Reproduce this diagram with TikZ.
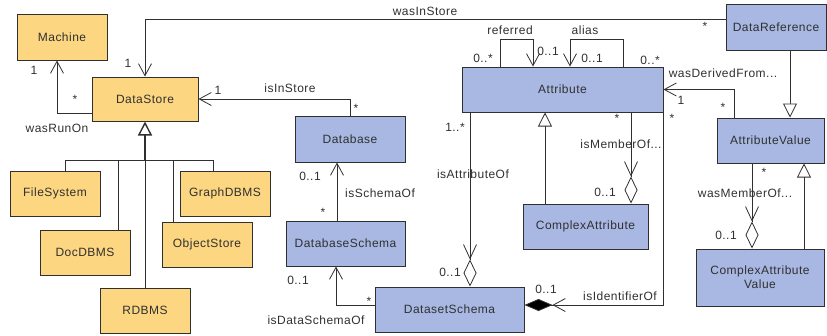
\documentclass[tikz,border=0pt]{standalone}
\usepackage{fontspec}
\setmainfont[LetterSpace=4]{Liberation Sans}
\usetikzlibrary{arrows.meta}
\definecolor{orng}{HTML}{FDD681}
\definecolor{bluf}{HTML}{A8B8E3}
\definecolor{ln}{HTML}{303030}
\begin{document}
\begin{tikzpicture}[x=1pt,y=-1pt,
  every node/.style={font=\fontsize{12}{14}\selectfont, text=ln},
  cls/.style={draw=ln, line width=1pt, inner sep=0pt, align=center},
  obox/.style={cls, fill=orng},
  bbox/.style={cls, fill=bluf},
  lbl/.style={inner sep=0pt},
  assoc/.style={draw=ln, line width=0.8pt, -{Straight Barb[length=12pt,width=13pt]}},
  gen/.style={draw=ln, line width=0.8pt, -{Triangle[open,length=14pt,width=14pt,fill=white]}},
  aggr/.style={draw=ln, line width=0.8pt, -{Straight Barb[length=14pt,width=13pt] Diamond[open,length=27pt,width=13pt,fill=white]}},
  comp/.style={draw=ln, line width=0.8pt, -{Straight Barb[length=12pt,width=13pt] Diamond[length=28pt,width=12pt,fill=black]}},
  plain/.style={draw=ln, line width=0.8pt},
]
\useasboundingbox (0,0) rectangle (827,335);
% boxes
\node[obox, minimum width=90, minimum height=46] (Machine) at (62,37) {Machine};
\node[obox, minimum width=106, minimum height=44] (DataStore) at (145,99) {DataStore};
\node[bbox, minimum width=110, minimum height=46] (Database) at (350,139) {Database};
\node[obox, minimum width=90, minimum height=45] (FileSystem) at (55,193.5) {FileSystem};
\node[obox, minimum width=90, minimum height=45] (GraphDBMS) at (225,193.5) {GraphDBMS};
\node[obox, minimum width=90, minimum height=45] (DocDBMS) at (85,252.5) {DocDBMS};
\node[obox, minimum width=90, minimum height=45] (ObjectStore) at (207,244.5) {ObjectStore};
\node[obox, minimum width=90, minimum height=45] (RDBMS) at (145,310.5) {RDBMS};
\node[bbox, minimum width=119, minimum height=45] (DatabaseSchema) at (345.5,243.5) {DatabaseSchema};
\node[bbox, minimum width=149, minimum height=45] (DatasetSchema) at (449.5,309.5) {DatasetSchema};
\node[bbox, minimum width=201, minimum height=45] (Attribute) at (562.5,89.5) {Attribute};
\node[bbox, minimum width=100, minimum height=46] (DataReference) at (776,27) {DataReference};
\node[bbox, minimum width=107, minimum height=45] (AttributeValue) at (770.5,140.5) {AttributeValue};
\node[bbox, minimum width=125, minimum height=45] (ComplexAttribute) at (585.5,226.5) {ComplexAttribute};
\node[bbox, minimum width=128, minimum height=57] (ComplexAttributeValue) at (760,277.5) {ComplexAttribute\\Value};
% generalization tree of DataStore
\coordinate (gbar) at (145,160);
\draw[gen, line width=1.4pt] (gbar) -- (DataStore.south);
\draw[plain] ([xshift=10pt]FileSystem.north) |- (gbar);
\draw[plain] ([xshift=33pt]DocDBMS.north) |- (gbar);
\draw[plain] (RDBMS.north) -- (gbar);
\draw[plain] ([xshift=-34pt]ObjectStore.north) |- (gbar);
\draw[plain] ([xshift=-12pt]GraphDBMS.north) |- (gbar);
% associations
\draw[assoc] ([yshift=8pt]DataReference.west) -| (DataStore.north);
\draw[assoc] ([yshift=-14pt]DataStore.west) -| ([xshift=-5pt]Machine.south);
\draw[assoc] (Database.north) |- (DataStore.east);
\draw[assoc] ([xshift=-8.5pt]DatabaseSchema.north) -- ([xshift=-8.5pt]DatabaseSchema.north |- Database.south);
\draw[assoc] ([yshift=4.5pt]DatasetSchema.west) -| ([xshift=-9.5pt]DatabaseSchema.south);
\draw[aggr] ([xshift=-92.5pt]Attribute.south) -- ([xshift=-92.5pt]Attribute.south |- DatasetSchema.north);
\draw[aggr] ([xshift=68.5pt]Attribute.south) -- ([xshift=68.5pt]Attribute.south |- ComplexAttribute.north);
\draw[gen] ([xshift=-40.5pt]ComplexAttribute.north) -- ([xshift=-40.5pt]ComplexAttribute.north |- Attribute.south);
\draw[comp] (Attribute.south east) |- ([yshift=4.5pt]DatasetSchema.east);
\draw[assoc] ([xshift=-62.5pt]Attribute.north) -- ++(0,-27) -| ([xshift=-29.5pt]Attribute.north);
\draw[assoc] ([xshift=60.5pt]Attribute.north) -- ++(0,-27) -| ([xshift=7.5pt]Attribute.north);
\draw[assoc] ([xshift=-36.5pt]AttributeValue.north) |- (Attribute.east);
\draw[gen] ([xshift=14pt]DataReference.south) -- ([xshift=14pt]DataReference.south |- AttributeValue.north);
\draw[gen] ([xshift=44pt]ComplexAttributeValue.north) -- ([xshift=44pt]ComplexAttributeValue.north |- AttributeValue.south);
\draw[aggr] ([xshift=-18.5pt]AttributeValue.south) -- ([xshift=-18.5pt]AttributeValue.south |- ComplexAttributeValue.north);
% labels
\node[lbl] (l1) at (425,11) {wasInStore};
\node[lbl] (l2) at (705,26) {*};
\node[lbl] (l3) at (128,63) {1};
\node[lbl] (l4) at (34,70) {1};
\node[lbl] (l5) at (75,99) {*};
\node[lbl] (l6) at (57,128) {wasRunOn};
\node[lbl] (l7) at (218,90) {1};
\node[lbl] (l8) at (290,88) {isInStore};
\node[lbl] (l9) at (356,108) {*};
\node[lbl] (l10) at (310,176) {0..1};
\node[lbl] (l11) at (380,193) {isSchemaOf};
\node[lbl] (l12) at (323,212) {*};
\node[lbl] (l13) at (298,280) {0..1};
\node[lbl] (l14) at (369,301) {*};
\node[lbl] (l15) at (316,320) {isDataSchemaOf};
\node[lbl] (l16) at (510,30) {referred};
\node[lbl] (l17) at (483,58) {0..*};
\node[lbl] (l18) at (548,51) {0..1};
\node[lbl] (l19) at (585,30) {alias};
\node[lbl] (l20) at (592,58) {0..1};
\node[lbl] (l21) at (650,60) {0..*};
\node[lbl] (l22) at (723,73) {wasDerivedFrom...};
\node[lbl] (l23) at (681,100) {1};
\node[lbl] (l24) at (723,107) {*};
\node[lbl] (l25) at (455,127) {1..*};
\node[lbl] (l26) at (617,118) {*};
\node[lbl] (l27) at (672,118) {*};
\node[lbl] (l28) at (621,144) {isMemberOf...};
\node[lbl] (l29) at (473,174) {isAttributeOf};
\node[lbl] (l30) at (605,192) {0..1};
\node[lbl] (l31) at (450,272) {0..1};
\node[lbl] (l32) at (546,289) {0..1};
\node[lbl] (l33) at (620,296) {isIdentifierOf};
\node[lbl] (l34) at (764,172) {*};
\node[lbl] (l35) at (745,193) {wasMemberOf...};
\node[lbl] (l36) at (726,235) {0..1};
\end{tikzpicture}
\end{document}
